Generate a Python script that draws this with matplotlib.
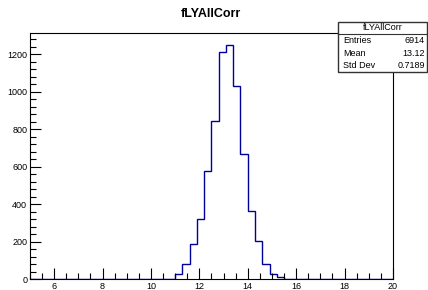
import numpy as np
import matplotlib.pyplot as plt
from matplotlib.patches import Rectangle
from matplotlib.ticker import MultipleLocator

plt.rcParams['font.family'] = ['Liberation Sans', 'DejaVu Sans']

# histogram fLYAllCorr: 50 bins from 5 to 20
x_lo, x_hi, n_bins = 5.0, 20.0, 50
counts = np.zeros(n_bins)
# bin index -> count
filled = {14: 1, 16: 1, 17: 2, 18: 3, 19: 4,
          20: 27, 21: 82, 22: 187, 23: 322, 24: 578, 25: 844,
          26: 1209, 27: 1250, 28: 1028, 29: 668, 30: 363, 31: 203,
          32: 82, 33: 27, 34: 12, 35: 4, 36: 1}
for i, c in filled.items():
    counts[i] = c
edges = np.linspace(x_lo, x_hi, n_bins + 1)

entries = 6914
mean = 13.12
std_dev = 0.7189

fig = plt.figure(figsize=(4.28, 2.9), dpi=100)
ax = fig.add_axes([0.070, 0.037, 0.848, 0.849])
ax.stairs(counts, edges, color='#00009a', linewidth=1.0)
ax.set_xlim(x_lo, x_hi)
ax.set_ylim(0, counts.max() * 1.05)

ax.xaxis.set_major_locator(MultipleLocator(2))
ax.xaxis.set_minor_locator(MultipleLocator(0.5))
ax.yaxis.set_major_locator(MultipleLocator(200))
ax.yaxis.set_minor_locator(MultipleLocator(40))
ax.tick_params(which='both', direction='in', top=False, right=False,
               labelsize=6.5, width=0.8, colors='black')
ax.tick_params(which='major', length=8)
ax.tick_params(which='minor', length=4)
ax.tick_params(axis='x', pad=2)
ax.tick_params(axis='y', pad=2)
for s in ax.spines.values():
    s.set_linewidth(0.8)

fig.text(0.493, 0.952, 'fLYAllCorr', ha='center', va='center',
         fontsize=9, fontweight='bold')

# stats box
bx0, bx1 = 338 / 428, 427 / 428
by0, by1 = 1 - 72 / 290, 1 - 22 / 290
fig.add_artist(Rectangle((bx0, by0), bx1 - bx0, by1 - by0,
                         transform=fig.transFigure, facecolor='white',
                         edgecolor='#333333', linewidth=1.0, zorder=5))
hy = 1 - 34 / 290
fig.add_artist(plt.Line2D([bx0, bx1], [hy, hy], transform=fig.transFigure,
                          color='#333333', linewidth=0.8, zorder=6))
fig.text((bx0 + bx1) / 2, 1 - 28 / 290, 'fLYAllCorr', ha='center',
         va='center', fontsize=6.5, zorder=7)
rows = [('Entries', f'{entries}'), ('Mean', f'{mean:.2f}'),
        ('Std Dev', f'{std_dev:.4f}')]
for k, (name, val) in enumerate(rows):
    y = 1 - (41 + 12.5 * k) / 290
    fig.text(343 / 428, y, name, ha='left', va='center', fontsize=6.5, zorder=7)
    fig.text(425 / 428, y, val, ha='right', va='center', fontsize=6.5, zorder=7)

fig.savefig('out.png', dpi=100)
